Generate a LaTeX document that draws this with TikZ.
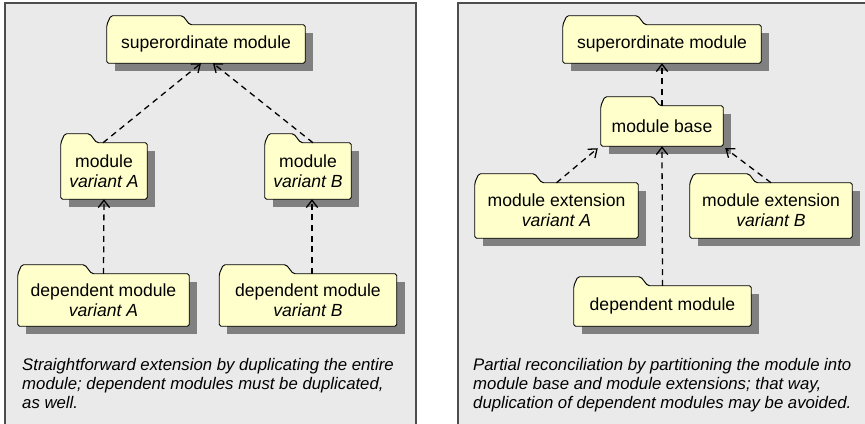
\documentclass[tikz,border=0pt]{standalone}
\usepackage{fontspec}
\setmainfont{Liberation Sans}
\usetikzlibrary{arrows.meta}
\pgfdeclarelayer{background}
\pgfsetlayers{background,main}
\definecolor{panelgray}{HTML}{EAEAEA}
\definecolor{panelline}{HTML}{4D4D4D}
\definecolor{foldercol}{HTML}{FFFFCC}
\definecolor{shadowgray}{HTML}{808080}

\tikzset{
  modnode/.style={inner sep=0pt, align=center, font=\fontsize{15}{17}\selectfont},
  folder/.style={fill=foldercol, draw=black, line width=0.8pt, rounded corners=1.5pt},
  depends/.style={dash pattern=on 1.8mm off 1.4mm, line width=1.1pt, -{Straight Barb[length=2.2mm,width=3.4mm]}},
  caption/.style={anchor=north west, inner sep=0pt, align=left, font=\fontsize{14.3}{16.4}\selectfont\itshape},
  panel/.style={fill=panelgray, draw=panelline, line width=1pt}
}

\begin{document}
\begin{tikzpicture}[x=0.3mm, y=-0.3mm]
        \clip (0,0) rectangle (865,424);
        % left panel
        \node[modnode, minimum width=59.4mm, minimum height=11.4mm] (supL) at (206,44) {superordinate module};
        \node[modnode, minimum width=25.8mm, minimum height=16.8mm] (modA) at (104,171) {module\\\textit{variant A}};
        \node[modnode, minimum width=25.8mm, minimum height=16.8mm] (modB) at (308,171) {module\\\textit{variant B}};
        \node[modnode, minimum width=51.3mm, minimum height=15.6mm] (depA) at (103.5,300) {dependent module\\\textit{variant A}};
        \node[modnode, minimum width=53.1mm, minimum height=15.6mm] (depB) at (308,300) {dependent module\\\textit{variant B}};
        \node[caption] (capL) at (22,358) {Straightforward extension by duplicating the entire\\module; dependent modules must be duplicated,\\as well.};

        % right panel
        \node[modnode, minimum width=59.4mm, minimum height=11.4mm] (supR) at (662,44) {superordinate module};
        \node[modnode, minimum width=36.6mm, minimum height=12mm] (base) at (662,126) {module base};
        \node[modnode, minimum width=48.9mm, minimum height=16.5mm] (extA) at (556.5,210.5) {module extension\\\textit{variant A}};
        \node[modnode, minimum width=48.6mm, minimum height=16.5mm] (extB) at (771,210.5) {module extension\\\textit{variant B}};
        \node[modnode, minimum width=53.1mm, minimum height=12mm] (dep) at (662.5,306) {dependent module};
        \node[caption] (capR) at (473,358) {Partial reconciliation by partitioning the module into\\module base and module extensions; that way,\\duplication of dependent modules may be avoided.};

        \draw[depends] ([xshift=-0.3mm]modA.north) -- ([xshift=-1.5mm]supL.south);
        \draw[depends] ([xshift=1.5mm]modB.north) -- ([xshift=2.1mm]supL.south);
        \draw[depends] (depA.north) -- (modA.south);
        \draw[depends] ([xshift=1.2mm]depB.north) -- ([xshift=1.2mm]modB.south);
        \draw[depends] (base.north) -- (supR.south);
        \draw[depends] (extA.north) -- ([xshift=-0.9mm, yshift=-0.6mm]base.south west);
        \draw[depends] (extB.north) -- ([xshift=0.6mm, yshift=-0.6mm]base.south east);
        \draw[depends] (dep.north) -- (base.south);

        \begin{pgfonlayer}{background}
        \draw[panel] (5,3) rectangle (416,440);
        \draw[panel] (458,3) rectangle (880,440);
        \foreach \n/\t in {supL/83, modA/36, modB/36, depA/74, depB/74, supR/82, base/59, extA/67, extB/66, dep/74} {
            \fill[shadowgray] ([shift={(8,8)}]\n.north west) rectangle ([shift={(8,8)}]\n.south east);
            \draw[folder] (\n.south west) -- (\n.north west) -- ++(4,-9) -- ++(\t-11,0) -- ++(7,9) -- (\n.north east) -- (\n.south east) -- cycle;
        }
        \end{pgfonlayer}
    \end{tikzpicture}
\end{document}
